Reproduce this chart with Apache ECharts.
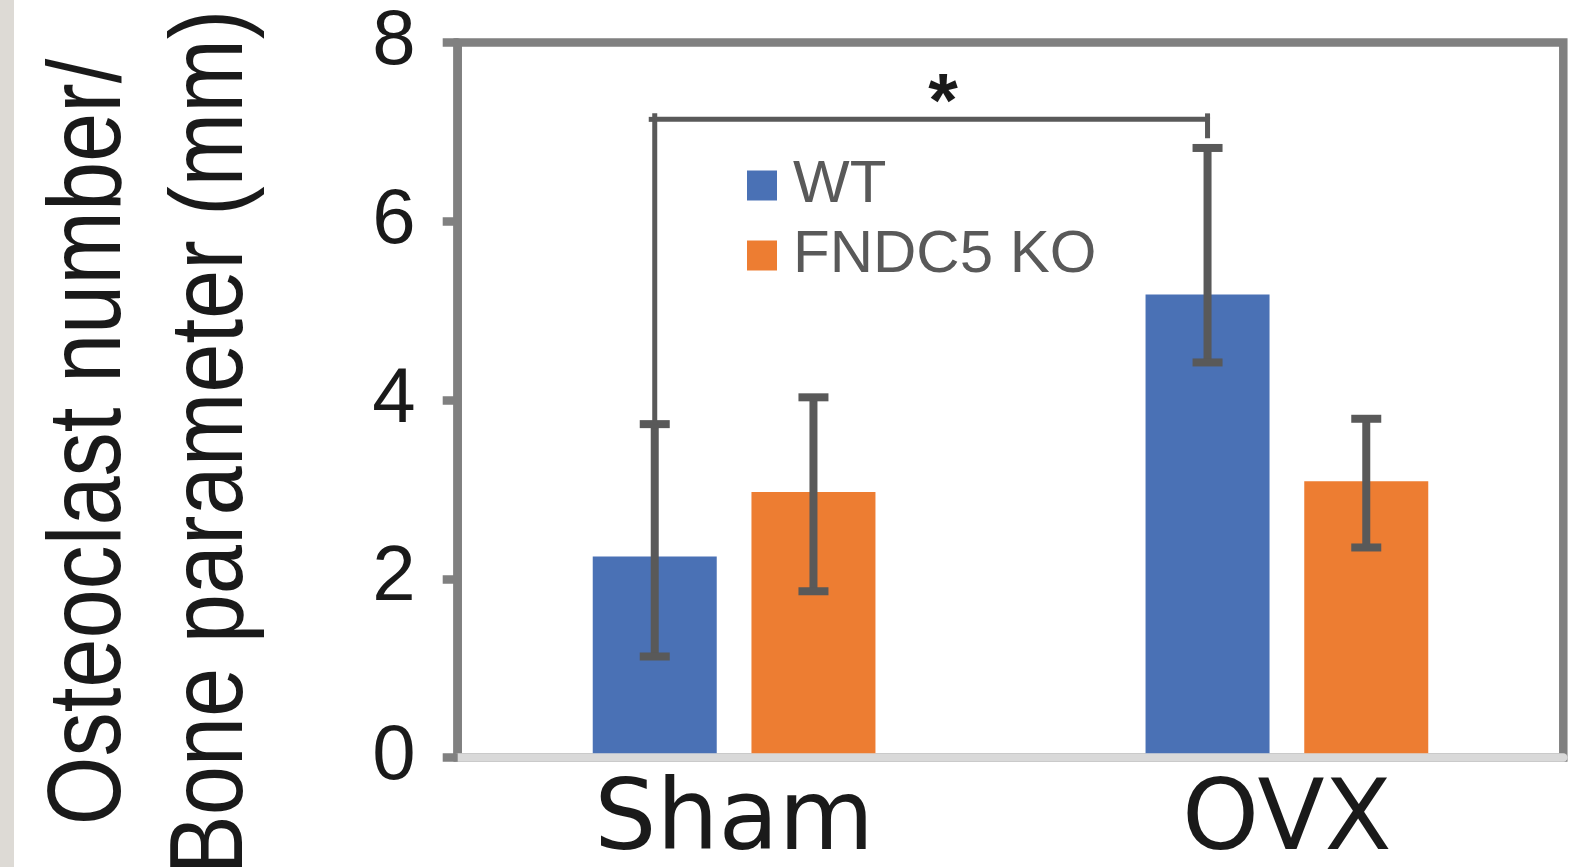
<!DOCTYPE html>
<html>
<head>
<meta charset="utf-8">
<script src="https://cdn.jsdelivr.net/npm/echarts@6/dist/echarts.min.js"></script>
<style>
html,body{margin:0;padding:0;background:#fff;}
#chart{width:1584px;height:867px;}
</style>
</head>
<body>
<div id="chart"></div>
<script>
// ---- data ----
const categories = ['Sham', 'OVX'];
const seriesNames = ['WT', 'FNDC5 KO'];
const wtMean = [2.25, 5.18];
const koMean = [2.97, 3.09];
const wtLow = [1.13, 4.42];
const wtHigh = [3.73, 6.82];
const koLow = [1.86, 2.35];
const koHigh = [4.03, 3.79];
const yTicks = [0, 2, 4, 6, 8];
// significance bracket: WT Sham vs WT OVX
const bracketCats = [0, 1];
const bracketTop = 7.14;
const bracketRightEnd = 6.93;
const starY = 7.47;
const starLabel = '*';
const yTitle = 'Osteoclast number/\nBone parameter (mm)';

// ---- style ----
const BAR_W = 124;
const GAP = 0.28;
const BLUE = '#4A71B5';
const ORANGE = '#ED7D32';
const ERR = '#595959';

function errData(lo, hi) {
  return lo.map((v, i) => [i, v, hi[i]]);
}
function errRender(sign) {
  return function (params, api) {
    const cat = api.value(0);
    const pLo = api.coord([cat, api.value(1)]);
    const pHi = api.coord([cat, api.value(2)]);
    const x = pLo[0] + sign * (BAR_W * (1 + GAP)) / 2;
    const hw = 15;
    const st = { stroke: ERR, lineWidth: 8, lineCap: 'butt' };
    return {
      type: 'group',
      children: [
        { type: 'line', shape: { x1: x, y1: pHi[1], x2: x, y2: pLo[1] }, style: st },
        { type: 'line', shape: { x1: x - hw, y1: pHi[1], x2: x + hw, y2: pHi[1] }, style: st },
        { type: 'line', shape: { x1: x - hw, y1: pLo[1], x2: x + hw, y2: pLo[1] }, style: st }
      ]
    };
  };
}

const chart = echarts.init(document.getElementById('chart'), null, { renderer: 'canvas' });
const option = {
  animation: false,
  backgroundColor: '#fff',
  graphic: [
    { type: 'rect', left: 0, top: 0, shape: { width: 14, height: 867 }, style: { fill: '#dddad5' }, z: 0 },
    { type: 'text', x: 152, y: 442, rotation: Math.PI / 2, scaleX: 0.85, z: 10,
      style: { text: yTitle, fontFamily: 'Liberation Sans', fontSize: 104, lineHeight: 122,
               fill: '#1a1a1a', align: 'center', verticalAlign: 'middle' } }
  ],
  grid: {
    left: 457.7, right: 20.7, top: 42.5, bottom: 109.5,
    outerBoundsMode: 'none', containLabel: false,
    show: true, borderColor: '#808080', borderWidth: 8.5, backgroundColor: 'transparent'
  },
  legend: {
    data: seriesNames,
    orient: 'vertical',
    left: 747, top: 155.5,
    padding: 0,
    itemWidth: 30, itemHeight: 30, itemGap: 10,
    icon: 'rect',
    textStyle: { fontFamily: 'Liberation Sans', fontSize: 60, color: '#595959', padding: [0, 0, 0, 11] }
  },
  xAxis: {
    type: 'category',
    data: categories,
    z: 5,
    axisLine: { lineStyle: { color: '#d9d9d9', width: 8.5 } },
    axisTick: { show: false },
    axisLabel: { fontFamily: 'DejaVu Sans', fontSize: 98, color: '#1a1a1a', margin: 17 }
  },
  yAxis: {
    type: 'value',
    min: yTicks[0], max: yTicks[yTicks.length - 1], interval: 2,
    z: 5,
    axisLine: { show: true, lineStyle: { color: '#808080', width: 8.5 } },
    axisTick: { show: true, length: 15, lineStyle: { color: '#808080', width: 8.5 } },
    splitLine: { show: false },
    axisLabel: { fontFamily: 'Liberation Sans', fontSize: 78, color: '#1a1a1a', margin: 42 }
  },
  series: [
    { name: seriesNames[0], type: 'bar', data: wtMean, barWidth: BAR_W, barGap: (GAP * 100) + '%', itemStyle: { color: BLUE } },
    { name: seriesNames[1], type: 'bar', data: koMean, barWidth: BAR_W, barGap: (GAP * 100) + '%', itemStyle: { color: ORANGE } },
    { type: 'custom', data: errData(wtLow, wtHigh), renderItem: errRender(-1), z: 6 },
    { type: 'custom', data: errData(koLow, koHigh), renderItem: errRender(1), z: 6 },
    {
      type: 'custom', z: 6,
      data: [[bracketCats[0], wtHigh[bracketCats[0]], bracketTop, bracketCats[1], bracketRightEnd, starY]],
      renderItem: function (params, api) {
        const off = -(BAR_W * (1 + GAP)) / 2;
        const pL0 = api.coord([api.value(0), api.value(1)]);
        const pLT = api.coord([api.value(0), api.value(2)]);
        const pRT = api.coord([api.value(3), api.value(2)]);
        const pRE = api.coord([api.value(3), api.value(4)]);
        const pS = api.coord([api.value(0), api.value(5)]);
        const xL = pL0[0] + off, xR = pRT[0] + off;
        return {
          type: 'group',
          children: [
            { type: 'polyline', shape: { points: [[xL, pL0[1]], [xL, pLT[1] - 6], [xL, pLT[1]], [xR, pRT[1]], [xR, pRE[1]]] },
              style: { stroke: ERR, lineWidth: 5, fill: null } },
            { type: 'line', shape: { x1: xL - 6, y1: pLT[1], x2: xL, y2: pLT[1] }, style: { stroke: ERR, lineWidth: 5 } },
            { type: 'line', shape: { x1: xR, y1: pRT[1] - 6, x2: xR, y2: pRT[1] }, style: { stroke: ERR, lineWidth: 5 } },
            { type: 'text', x: (xL + xR) / 2 + 12, y: pS[1] + 15,
              style: { text: starLabel, fontFamily: 'Liberation Sans', fontSize: 76, fontWeight: 'bold', fill: '#1a1a1a', align: 'center', verticalAlign: 'middle' } }
          ]
        };
      }
    }
  ]
};
chart.setOption(option);
</script>
</body>
</html>
